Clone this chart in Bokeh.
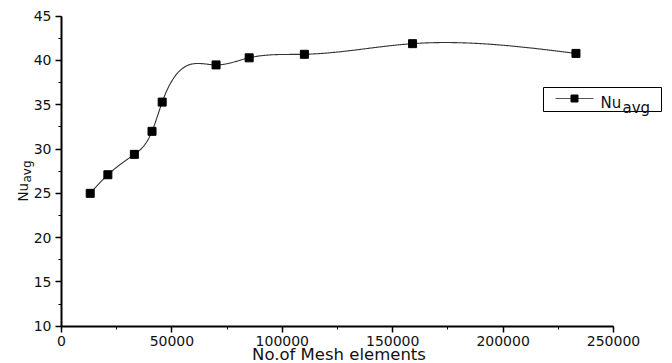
import numpy as np
from bokeh.plotting import figure
from bokeh.models import Range1d, SingleIntervalTicker, Label, LinearAxis
from bokeh.embed import file_html
from bokeh.resources import INLINE

# ---- data ----
mesh_elements = [13000, 21000, 33000, 41000, 45600, 70000, 85000, 110000, 159000, 233000]
nu_avg = [25.0, 27.1, 29.4, 32.0, 35.3, 39.5, 40.3, 40.7, 41.9, 40.8]
series_name = "Nu"
series_sub = "avg"
x_title = "No.of Mesh elements"


def natural_spline(xs, ys, n=600):
    xs = np.asarray(xs, float)
    ys = np.asarray(ys, float)
    k = len(xs)
    h = np.diff(xs)
    A = np.zeros((k, k))
    b = np.zeros(k)
    A[0, 0] = 1.0
    A[-1, -1] = 1.0
    for i in range(1, k - 1):
        A[i, i - 1] = h[i - 1]
        A[i, i] = 2 * (h[i - 1] + h[i])
        A[i, i + 1] = h[i]
        b[i] = 6 * ((ys[i + 1] - ys[i]) / h[i] - (ys[i] - ys[i - 1]) / h[i - 1])
    M = np.linalg.solve(A, b)
    xx = np.linspace(xs[0], xs[-1], n)
    idx = np.clip(np.searchsorted(xs, xx) - 1, 0, k - 2)
    x0, x1 = xs[idx], xs[idx + 1]
    hh = x1 - x0
    t1 = x1 - xx
    t0 = xx - x0
    yy = (M[idx] * t1 ** 3 / (6 * hh) + M[idx + 1] * t0 ** 3 / (6 * hh)
          + (ys[idx] / hh - M[idx] * hh / 6) * t1
          + (ys[idx + 1] / hh - M[idx + 1] * hh / 6) * t0)
    return xx, yy


# ---- layout (pixel geometry of the reference) ----
W, H = 672, 363
ax_left_px = 61.0      # pixel column of x = 0
ax_bottom_px = 325.7   # pixel row of y = 10
px_per_x = 552 / 250000.0
px_per_y = 310 / 35.0


def dx(px):
    return (px - ax_left_px) / px_per_x


def dy(py):
    return 10 + (ax_bottom_px - py) / px_per_y


p = figure(width=W, height=H, output_backend="svg", toolbar_location=None,
           x_range=Range1d(dx(0), dx(W)), y_range=Range1d(dy(H), dy(0)),
           x_axis_location=None, y_axis_location=None,
           min_border=0, min_border_left=0, min_border_right=0,
           min_border_top=0, min_border_bottom=0)
p.outline_line_color = None
p.grid.visible = False
p.background_fill_color = "white"
p.border_fill_color = "white"

xaxis = LinearAxis(fixed_location=10,
                   ticker=SingleIntervalTicker(interval=50000, num_minor_ticks=2))
yaxis = LinearAxis(fixed_location=0,
                   ticker=SingleIntervalTicker(interval=5, num_minor_ticks=2))
xaxis.bounds = (0, 250000)
yaxis.bounds = (10, 45)
for ax in (xaxis, yaxis):
    ax.axis_line_width = 2
    ax.axis_line_color = "black"
    ax.major_tick_line_color = "black"
    ax.minor_tick_line_color = "black"
    ax.major_tick_line_width = 1.5
    ax.major_tick_in = 0
    ax.major_tick_out = 6
    ax.minor_tick_in = 0
    ax.minor_tick_out = 3
    ax.major_label_text_font = "DejaVu Sans"
    ax.major_label_text_font_size = "14px"
    ax.major_label_text_color = "#111111"
    ax.major_label_standoff = 4
    ax.formatter.use_scientific = False
p.add_layout(xaxis, "below")
p.add_layout(yaxis, "left")

# spline-connected data
sx, sy = natural_spline(mesh_elements, nu_avg)
p.line(sx, sy, line_color="#333333", line_width=1.1)
p.scatter(mesh_elements, nu_avg, marker="square", size=8,
          fill_color="black", line_color="black")

# x axis title
p.add_layout(Label(x=dx(338.5), y=dy(354), text=x_title, text_font="DejaVu Sans",
                   text_font_size="16.5px", text_align="center",
                   text_baseline="alphabetic", text_color="#111111"))

# y axis title (rotated, with subscript)
p.add_layout(Label(x=dx(22.5), y=dy(201), text=series_name, angle=np.pi / 2,
                   text_font="DejaVu Sans", text_font_size="13.5px",
                   text_align="left", text_baseline="alphabetic", text_color="#111111"))
p.add_layout(Label(x=dx(26.5), y=dy(182), text=series_sub, angle=np.pi / 2,
                   text_font="DejaVu Sans", text_font_size="12px",
                   text_align="left", text_baseline="alphabetic", text_color="#111111"))

# legend (drawn manually so the subscript can be shown)
p.quad(left=[dx(543)], right=[dx(661)], top=[dy(87)], bottom=[dy(111)],
       fill_color="white", line_color="black", line_width=1)
p.line([dx(555), dx(593)], [dy(98), dy(98)], line_color="#555555", line_width=1.2)
p.scatter([dx(574)], [dy(98)], marker="square", size=7,
          fill_color="black", line_color="black")
p.add_layout(Label(x=dx(600), y=dy(102), text=series_name, text_font="DejaVu Sans",
                   text_font_size="15px", text_align="left",
                   text_baseline="alphabetic", text_color="#111111"))
p.add_layout(Label(x=dx(622), y=dy(107), text=series_sub, text_font="DejaVu Sans",
                   text_font_size="15px", text_align="left",
                   text_baseline="alphabetic", text_color="#111111"))

open("out.html", "w").write(file_html(p, INLINE))
